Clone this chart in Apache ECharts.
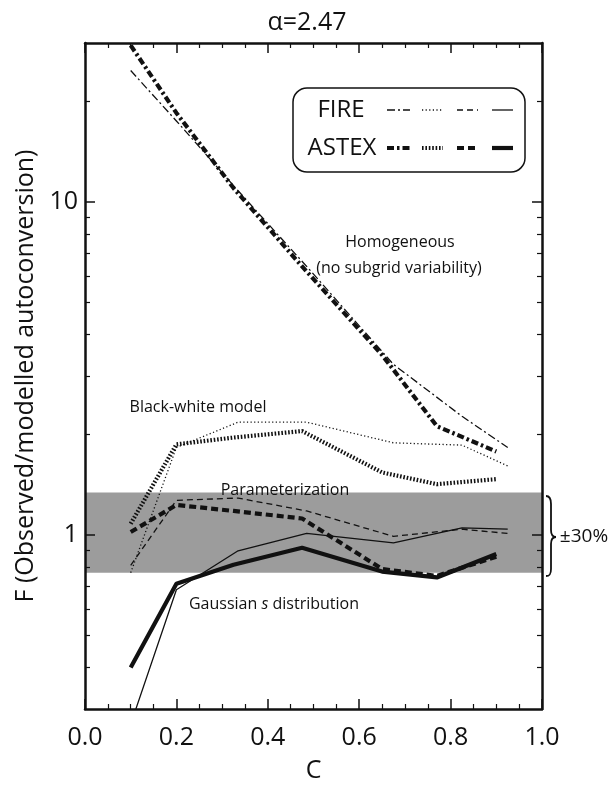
<!DOCTYPE html>
<html><head><meta charset="utf-8">
<script src="https://cdn.jsdelivr.net/npm/echarts/dist/echarts.min.js"></script>
<style>html,body{margin:0;padding:0;background:#fff}#c{width:610px;height:788px}</style>
</head><body><div id="c"></div>
<script>
// ---- data ----
const fireC  = [0.1, 0.2, 0.335, 0.485, 0.675, 0.825, 0.925];
const astexC = [0.1, 0.2, 0.325, 0.475, 0.65, 0.77, 0.9];

const fireHomog   = [24.8, 17.5, 10.8, 6.4, 3.25, 2.27, 1.83];
const fireBW      = [0.77, 1.83, 2.18, 2.18, 1.89, 1.86, 1.61];
const fireParam   = [0.81, 1.27, 1.29, 1.18, 0.99, 1.04, 1.01];
const fireGauss   = [0.27, 0.684, 0.896, 1.01, 0.946, 1.05, 1.04];

const astexHomog  = [29.5, 18.5, 11.0, 6.4, 3.47, 2.12, 1.78];
const astexBW     = [1.08, 1.87, 1.96, 2.05, 1.54, 1.42, 1.47];
const astexParam  = [1.02, 1.23, 1.18, 1.12, 0.79, 0.753, 0.86];
const astexGauss  = [0.40, 0.713, 0.813, 0.915, 0.776, 0.745, 0.876];

const band = [0.77, 1.34];           // ±30% band
const yMajorTicks = [1, 10];
const yMinorTicks = [0.4, 0.5, 0.6, 0.7, 0.8, 0.9, 2, 3, 4, 5, 6, 7, 8, 9, 20];
const xTickLabels = ['0.0', '0.2', '0.4', '0.6', '0.8', '1.0'];

// ---- styles ----
const FONT = '"Open Sans", "DejaVu Sans", sans-serif';
const INK = '#111';
const thin = 1.3, thick = 4.2;
const dashDotThin = [8, 3, 2, 3], dashDotThick = [7, 3, 2.5, 3];
const dotThin = [1.2, 2.4], dotThick = [1.6, 1.8];
const dashThin = [6, 4], dashThick = [7, 4];

function pts(xs, ys) { return xs.map((x, i) => [x, ys[i]]); }
function line(name, xs, ys, w, type, extra) {
  return Object.assign({
    name, type: 'line', data: pts(xs, ys), symbol: 'none', z: 3, silent: true,
    lineStyle: { color: INK, width: w, type: type, cap: 'butt', join: 'round' },
    animation: false
  }, extra || {});
}

const chart = echarts.init(document.getElementById('c'), null, { renderer: 'canvas' });

const xBase = {
  type: 'value', min: 0, max: 1, interval: 0.2, z: 5,
  axisLine: { lineStyle: { color: INK, width: 2.5 } },
  axisTick: { inside: true, length: 10, lineStyle: { color: INK, width: 1.5 } },
  minorTick: { show: true, splitNumber: 4, length: 5, lineStyle: { color: INK, width: 1.2 } },
  splitLine: { show: false }, minorSplitLine: { show: false }
};
const yBase = {
  type: 'log', logBase: 10, min: 0.3, max: 30, z: 5,
  splitLine: { show: false }, minorSplitLine: { show: false }
};

const option = {
  backgroundColor: '#fff',
  animation: false,
  grid: { left: 85, right: 68, top: 43, bottom: 75, containLabel: false },
  xAxis: [
    Object.assign({}, xBase, {
      position: 'bottom',
      axisLabel: { fontSize: 25, color: INK, margin: 16, fontFamily: FONT,
        formatter: v => xTickLabels[Math.round(v / 0.2)] },
      name: 'C', nameLocation: 'middle', nameGap: 49,
      nameTextStyle: { fontSize: 25, color: INK, fontFamily: FONT }
    }),
    Object.assign({}, xBase, { position: 'top', axisLabel: { show: false } })
  ],
  yAxis: [
    Object.assign({}, yBase, {
      position: 'left',
      axisLine: { lineStyle: { color: INK, width: 2.5 } },
      axisTick: { inside: true, length: 10, customValues: yMajorTicks, lineStyle: { color: INK, width: 1.5 } },
      axisLabel: { customValues: yMajorTicks, fontSize: 25, color: INK, margin: 7, fontFamily: FONT,
        formatter: v => String(v) },
      name: 'F (Observed/modelled autoconversion)', nameLocation: 'middle', nameGap: 44,
      nameTextStyle: { fontSize: 25, color: INK, fontFamily: FONT }
    }),
    Object.assign({}, yBase, {
      position: 'left',
      axisLine: { show: false },
      axisTick: { inside: true, length: 5, customValues: yMinorTicks, lineStyle: { color: INK, width: 1.2 } },
      axisLabel: { show: false }
    }),
    Object.assign({}, yBase, {
      position: 'right',
      axisLine: { lineStyle: { color: INK, width: 2.5 } },
      axisTick: { inside: true, length: 10, customValues: yMajorTicks, lineStyle: { color: INK, width: 1.5 } },
      axisLabel: { show: false }
    }),
    Object.assign({}, yBase, {
      position: 'right',
      axisLine: { show: false },
      axisTick: { inside: true, length: 5, customValues: yMinorTicks, lineStyle: { color: INK, width: 1.2 } },
      axisLabel: { show: false }
    })
  ],
  series: [
    line('FIRE homogeneous', fireC, fireHomog, thin, dashDotThin, {
      markArea: { silent: true, z: 1, itemStyle: { color: '#9c9c9c' },
        data: [[{ yAxis: band[0] }, { yAxis: band[1] }]] }
    }),
    line('FIRE black-white', fireC, fireBW, thin, dotThin),
    line('FIRE parameterization', fireC, fireParam, thin, dashThin),
    line('FIRE Gaussian', fireC, fireGauss, thin, 'solid'),
    line('ASTEX homogeneous', astexC, astexHomog, thick, dashDotThick),
    line('ASTEX black-white', astexC, astexBW, thick, dotThick),
    line('ASTEX parameterization', astexC, astexParam, thick, dashThick),
    line('ASTEX Gaussian', astexC, astexGauss, thick, 'solid')
  ],
  graphic: [
    { type: 'text', x: 307, y: 23, z: 10,
      style: { text: 'α=2.47', fontSize: 25, fontFamily: FONT, fill: INK, align: 'center', verticalAlign: 'middle' } },
    // legend box
    { type: 'rect', z: 10, shape: { x: 293, y: 88, width: 232, height: 84, r: 14 },
      style: { fill: '#fff', stroke: INK, lineWidth: 1.5 } },
    { type: 'text', x: 341, y: 110, z: 11,
      style: { text: 'FIRE', fontSize: 24, fontFamily: FONT, fill: INK, align: 'center', verticalAlign: 'middle' } },
    { type: 'text', x: 342, y: 148, z: 11,
      style: { text: 'ASTEX', fontSize: 24, fontFamily: FONT, fill: INK, align: 'center', verticalAlign: 'middle' } },
    { type: 'line', z: 11, shape: { x1: 387, y1: 110, x2: 410, y2: 110 }, style: { stroke: INK, lineWidth: thin, lineDash: dashDotThin } },
    { type: 'line', z: 11, shape: { x1: 422, y1: 110, x2: 443, y2: 110 }, style: { stroke: INK, lineWidth: thin, lineDash: dotThin } },
    { type: 'line', z: 11, shape: { x1: 457, y1: 110, x2: 478, y2: 110 }, style: { stroke: INK, lineWidth: thin, lineDash: dashThin } },
    { type: 'line', z: 11, shape: { x1: 492, y1: 110, x2: 513, y2: 110 }, style: { stroke: INK, lineWidth: thin } },
    { type: 'line', z: 11, shape: { x1: 387, y1: 148, x2: 410, y2: 148 }, style: { stroke: INK, lineWidth: thick, lineDash: dashDotThick } },
    { type: 'line', z: 11, shape: { x1: 422, y1: 148, x2: 443, y2: 148 }, style: { stroke: INK, lineWidth: thick, lineDash: dotThick } },
    { type: 'line', z: 11, shape: { x1: 457, y1: 148, x2: 478, y2: 148 }, style: { stroke: INK, lineWidth: thick, lineDash: dashThick } },
    { type: 'line', z: 11, shape: { x1: 492, y1: 148, x2: 513, y2: 148 }, style: { stroke: INK, lineWidth: thick } },
    // annotations
    { type: 'text', x: 400, y: 242, z: 10,
      style: { text: 'Homogeneous', fontSize: 16, fontFamily: FONT, fill: INK, align: 'center', verticalAlign: 'middle' } },
    { type: 'text', x: 399, y: 268, z: 10,
      style: { text: '(no subgrid variability)', fontSize: 16, fontFamily: FONT, fill: INK, align: 'center', verticalAlign: 'middle' } },
    { type: 'text', x: 198, y: 407, z: 10,
      style: { text: 'Black-white model', fontSize: 16, fontFamily: FONT, fill: INK, align: 'center', verticalAlign: 'middle' } },
    { type: 'text', x: 285, y: 490, z: 10,
      style: { text: 'Parameterization', fontSize: 16, fontFamily: FONT, fill: INK, align: 'center', verticalAlign: 'middle' } },
    { type: 'text', x: 274, y: 604, z: 10,
      style: { text: 'Gaussian {i|s} distribution', fontSize: 16, fontFamily: FONT, fill: INK, align: 'center', verticalAlign: 'middle',
        rich: { i: { fontSize: 16, fontFamily: FONT, fontStyle: 'italic', fill: INK } } } },
    // brace and ±30%
    { type: 'bezierCurve', z: 10, shape: { x1: 546, y1: 496, cpx1: 550, cpy1: 496, cpx2: 551, cpy2: 499, x2: 551, y2: 504 }, style: { stroke: INK, lineWidth: 1.8, fill: null } },
    { type: 'line', z: 10, shape: { x1: 551, y1: 504, x2: 551, y2: 530 }, style: { stroke: INK, lineWidth: 1.8 } },
    { type: 'bezierCurve', z: 10, shape: { x1: 551, y1: 530, cpx1: 551, cpy1: 535, cpx2: 553, cpy2: 537, x2: 556, y2: 537 }, style: { stroke: INK, lineWidth: 1.8, fill: null } },
    { type: 'bezierCurve', z: 10, shape: { x1: 556, y1: 537, cpx1: 553, cpy1: 537, cpx2: 551, cpy2: 539, x2: 551, y2: 544 }, style: { stroke: INK, lineWidth: 1.8, fill: null } },
    { type: 'line', z: 10, shape: { x1: 551, y1: 544, x2: 551, y2: 569 }, style: { stroke: INK, lineWidth: 1.8 } },
    { type: 'bezierCurve', z: 10, shape: { x1: 551, y1: 569, cpx1: 551, cpy1: 574, cpx2: 550, cpy2: 576, x2: 546, y2: 576 }, style: { stroke: INK, lineWidth: 1.8, fill: null } },
    { type: 'text', x: 584, y: 537, z: 10,
      style: { text: '±30%', fontSize: 19, fontFamily: FONT, fill: INK, align: 'center', verticalAlign: 'middle' } }
  ]
};
chart.setOption(option);
</script>
</body></html>
